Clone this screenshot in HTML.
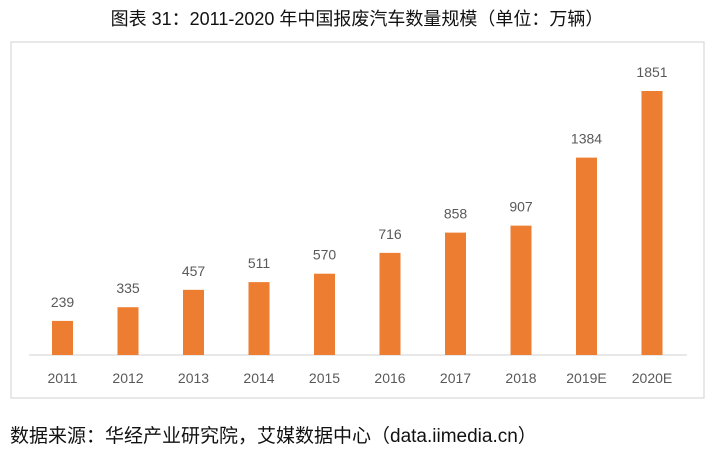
<!DOCTYPE html>
<html><head><meta charset="utf-8"><style>
body{margin:0;background:#fff;width:719px;height:451px;overflow:hidden;font-family:"Liberation Sans","Noto Sans CJK SC",sans-serif}
</style></head><body>
<svg width="719" height="451" xmlns="http://www.w3.org/2000/svg">
<text x="357" y="25" text-anchor="middle" font-size="18" fill="#111" font-family="Liberation Sans, Noto Sans CJK SC, sans-serif">图表 31：2011-2020 年中国报废汽车数量规模（单位：万辆）</text>
<rect x="11" y="42" width="693" height="356" fill="none" stroke="#d9d9d9" stroke-width="1.2"/>
<line x1="29" y1="355" x2="687" y2="355" stroke="#d9d9d9" stroke-width="1.2"/>
<g id="bars"></g>
<text x="10" y="442" font-size="19" fill="#111" font-family="Liberation Sans, Noto Sans CJK SC, sans-serif">数据来源：华经产业研究院，艾媒数据中心（data.iimedia.cn）</text>
</svg>
<script>
const categories=["2011","2012","2013","2014","2015","2016","2017","2018","2019E","2020E"];
const values=[239,335,457,511,570,716,858,907,1384,1851];
const g=document.getElementById('bars');
const NS="http://www.w3.org/2000/svg";
const x0=62.5,step=65.5,base=355,scale=264/1851,bw=21;
const xs=i=>x0+i*step;
const ys=v=>base-v*scale;
categories.forEach((c,i)=>{
  const r=document.createElementNS(NS,'rect');
  r.setAttribute('x',xs(i)-bw/2);r.setAttribute('y',ys(values[i]));
  r.setAttribute('width',bw);r.setAttribute('height',base-ys(values[i]));
  r.setAttribute('fill','#ed7d31');
  
  
  g.appendChild(r);
  const t=document.createElementNS(NS,'text');
  t.setAttribute('x',xs(i));t.setAttribute('y',ys(values[i])-14);
  t.setAttribute('text-anchor','middle');t.setAttribute('font-size','14');t.setAttribute('fill','#595959');
  t.textContent=values[i];
  
  
  g.appendChild(t);
  const l=document.createElementNS(NS,'text');
  l.setAttribute('x',xs(i));l.setAttribute('y',383);
  l.setAttribute('text-anchor','middle');l.setAttribute('font-size','14');l.setAttribute('fill','#595959');
  l.textContent=c;
  
  
  g.appendChild(l);
});
</script>
</body></html>
